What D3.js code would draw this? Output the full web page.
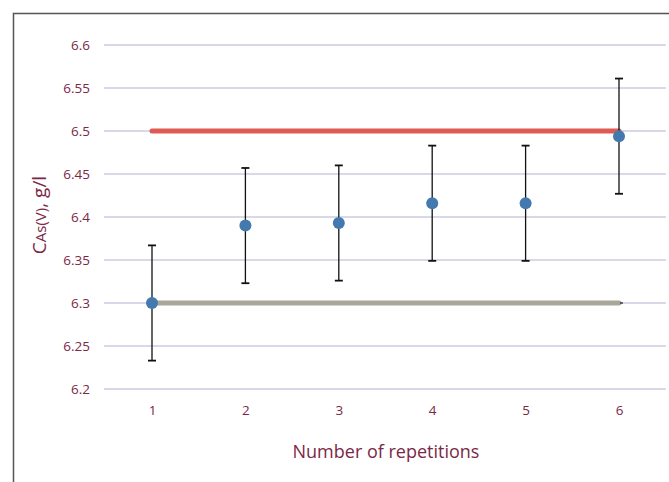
<!DOCTYPE html>
<html>
<head>
<meta charset="utf-8">
<script src="https://cdn.jsdelivr.net/npm/d3@7"></script>
<style>
  body { margin: 0; background: #fff; }
  svg { display: block; font-family: "Open Sans", "Noto Sans", sans-serif; }
</style>
</head>
<body>
<svg id="chart" width="669" height="482"></svg>
<script>
const repetitions = [1, 2, 3, 4, 5, 6];
const concentration = [6.300, 6.390, 6.393, 6.416, 6.416, 6.494];
const errorHalf = [0.067, 0.067, 0.067, 0.067, 0.067, 0.067];
const upperLimit = 6.5;
const lowerLimit = 6.3;
const yTicks = [6.2, 6.25, 6.3, 6.35, 6.4, 6.45, 6.5, 6.55, 6.6];

const w = 669;
const h = 482;
const labelColor = '#7b2846';

const svg = d3.select('#chart');

// frame (cut off at right and bottom like the screenshot)
svg.append('path')
  .attr('d', `M13.5,${h} L13.5,13.5 L${w},13.5`)
  .attr('fill', 'none')
  .attr('stroke', '#555')
  .attr('stroke-width', 1.5);

const xScale = d3.scalePoint()
  .domain(repetitions)
  .range([152, 619]);

const yScale = d3.scaleLinear()
  .domain([6.2, 6.6])
  .range([389, 45]);

// gridlines
svg.append('g')
  .selectAll('line')
  .data(yTicks)
  .enter()
  .append('line')
  .attr('x1', 104)
  .attr('x2', 666)
  .attr('y1', d => yScale(d))
  .attr('y2', d => yScale(d))
  .attr('stroke', '#d9d8e8')
  .attr('stroke-width', 2.2);

// y axis labels
const yAxis = d3.axisLeft(yScale)
  .tickValues(yTicks)
  .tickFormat(d => d3.format('')(+d.toFixed(2)))
  .tickSize(0)
  .tickPadding(0);

svg.append('g')
  .attr('id', 'y-axis')
  .attr('transform', 'translate(90, 0)')
  .call(yAxis)
  .call(g => g.select('.domain').remove())
  .call(g => g.selectAll('text')
    .attr('fill', labelColor)
    .attr('font-size', 13.5)
    .attr('font-family', '"Open Sans", sans-serif'));

// x axis labels
const xAxis = d3.axisBottom(xScale)
  .tickSize(0)
  .tickPadding(0);

svg.append('g')
  .attr('id', 'x-axis')
  .attr('transform', 'translate(0, 405)')
  .call(xAxis)
  .call(g => g.select('.domain').remove())
  .call(g => g.selectAll('text')
    .attr('fill', labelColor)
    .attr('font-size', 13.5)
    .attr('font-family', '"Open Sans", sans-serif'));

// reference lines
const first = repetitions[0];
const last = repetitions[repetitions.length - 1];

svg.append('line')
  .attr('x1', xScale(first))
  .attr('x2', xScale(last))
  .attr('y1', yScale(lowerLimit))
  .attr('y2', yScale(lowerLimit))
  .attr('stroke', '#a9a797')
  .attr('stroke-width', 5)
  .attr('stroke-linecap', 'round');

svg.append('line')
  .attr('x1', xScale(last) + 1)
  .attr('x2', xScale(last) + 4)
  .attr('y1', yScale(lowerLimit))
  .attr('y2', yScale(lowerLimit))
  .attr('stroke', '#222')
  .attr('stroke-width', 1.2);

svg.append('line')
  .attr('x1', xScale(first))
  .attr('x2', xScale(last))
  .attr('y1', yScale(upperLimit))
  .attr('y2', yScale(upperLimit))
  .attr('stroke', '#df5a55')
  .attr('stroke-width', 5)
  .attr('stroke-linecap', 'round');

// error bars
const bars = svg.append('g')
  .selectAll('g')
  .data(repetitions)
  .enter()
  .append('g')
  .attr('stroke', '#111')
  .attr('stroke-width', 1.3);

bars.append('line')
  .attr('x1', d => xScale(d))
  .attr('x2', d => xScale(d))
  .attr('y1', (d, i) => yScale(concentration[i] - errorHalf[i]))
  .attr('y2', (d, i) => yScale(concentration[i] + errorHalf[i]));

bars.append('line')
  .attr('x1', d => xScale(d) - 4)
  .attr('x2', d => xScale(d) + 4)
  .attr('y1', (d, i) => yScale(concentration[i] + errorHalf[i]))
  .attr('y2', (d, i) => yScale(concentration[i] + errorHalf[i]))
  .attr('stroke-width', 1.8);

bars.append('line')
  .attr('x1', d => xScale(d) - 4)
  .attr('x2', d => xScale(d) + 4)
  .attr('y1', (d, i) => yScale(concentration[i] - errorHalf[i]))
  .attr('y2', (d, i) => yScale(concentration[i] - errorHalf[i]))
  .attr('stroke-width', 1.8);

// points
svg.append('g')
  .selectAll('circle')
  .data(repetitions)
  .enter()
  .append('circle')
  .attr('cx', d => xScale(d))
  .attr('cy', (d, i) => yScale(concentration[i]))
  .attr('r', 6)
  .attr('fill', '#4479b0');

// axis titles
svg.append('text')
  .attr('x', 386)
  .attr('y', 458)
  .attr('text-anchor', 'middle')
  .attr('fill', labelColor)
  .attr('font-size', 18)
  .text('Number of repetitions');

const yTitle = svg.append('text')
  .attr('transform', 'translate(46, 215) rotate(-90)')
  .attr('text-anchor', 'middle')
  .attr('fill', labelColor)
  .attr('font-size', 19);

yTitle.append('tspan').text('C');
yTitle.append('tspan').attr('font-size', 15).text('As(V)');
yTitle.append('tspan').text(', g/l');
</script>
</body>
</html>
